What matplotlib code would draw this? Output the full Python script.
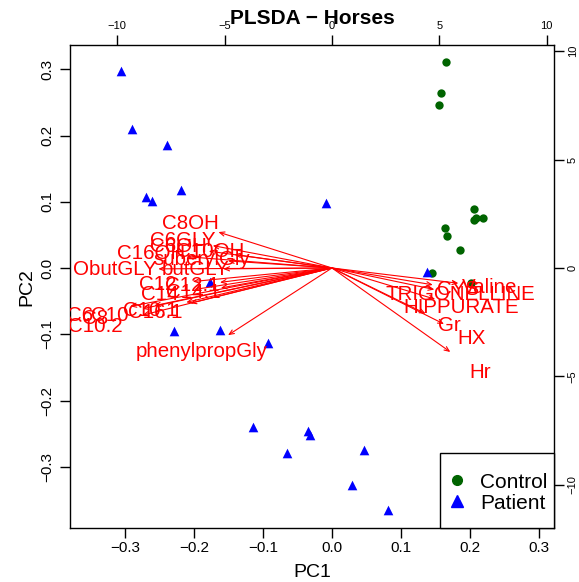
import matplotlib
matplotlib.use("Agg")
import matplotlib.pyplot as plt
from matplotlib.lines import Line2D
from matplotlib.patches import Rectangle
from matplotlib.ticker import MultipleLocator

plt.rcParams['font.family'] = ['Liberation Sans', 'DejaVu Sans']

# scores (PC1, PC2)
control_pc1 = [0.166, 0.158, 0.156, 0.206, 0.209, 0.206, 0.220, 0.164, 0.167, 0.186, 0.146, 0.202]
control_pc2 = [0.311, 0.264, 0.247, 0.090, 0.075, 0.072, 0.075, 0.060, 0.048, 0.028, -0.008, -0.022]

patient_pc1 = [-0.306, -0.291, -0.239, -0.220, -0.270, -0.262, -0.009, -0.177, -0.229, -0.162,
               -0.093, 0.138, -0.115, -0.065, -0.035, -0.032, 0.029, 0.047, 0.081]
patient_pc2 = [0.297, 0.210, 0.186, 0.118, 0.108, 0.101, 0.098, -0.021, -0.095, -0.094,
               -0.113, -0.006, -0.240, -0.280, -0.246, -0.252, -0.328, -0.275, -0.366]

# loadings (secondary axes units)
var_names = ["C8OH", "C6GLY", "C6OH", "C10OH", "C16OH", "suberylGly", "ObutGLY", "butGLY",
             "C12", "C12.1", "C14", "C14.1", "C10.1", "C16.1", "C6", "C8", "C10", "C10.2",
             "phenylpropGly", "TRIGONELLINE", "CYS", "Valine", "HIPPURATE", "Gr", "HX", "Hr"]
load_x = [-6.61, -6.94, -7.17, -5.68, -8.43, -6.05, -10.11, -6.33,
          -8.10, -6.52, -8.01, -6.47, -8.48, -8.24, -11.74, -11.04, -10.34, -11.04,
          -6.05, 5.96, 5.87, 7.36, 6.01, 5.45, 6.52, 6.89]
load_y = [2.07, 1.29, 0.97, 0.78, 0.65, 0.41, -0.05, -0.05,
          -0.78, -0.83, -1.24, -1.15, -1.98, -2.03, -2.21, -2.35, -2.17, -2.72,
          -3.87, -1.24, -0.97, -0.88, -1.80, -2.63, -3.23, -4.84]

W, H = 579, 582
fig = plt.figure(figsize=(W / 100, H / 100), dpi=100)
rect = [70 / W, 1 - 528.3 / H, (554 - 70) / W, (528.3 - 45) / H]

ax = fig.add_axes(rect)
ax.scatter(control_pc1, control_pc2, marker='o', s=36, color='#006400', zorder=3, linewidths=0)
ax.scatter(patient_pc1, patient_pc2, marker='^', s=48, color='#0000FF', zorder=3, linewidths=0)
ax.set_xlim(-0.3805, 0.3225)
ax.set_ylim(-0.393, 0.337)
ax.xaxis.set_major_locator(MultipleLocator(0.1))
ax.yaxis.set_major_locator(MultipleLocator(0.1))
ax.xaxis.set_major_formatter(lambda v, p: f"{v:.1f}".replace("-", "\u2212"))
ax.yaxis.set_major_formatter(lambda v, p: f"{v:.1f}".replace("-", "\u2212"))
ax.tick_params(axis='both', direction='out', length=7, width=1, labelsize=11)
ax.tick_params(axis='x', pad=2.5)
ax.tick_params(axis='y', pad=4)
for lab in ax.get_yticklabels():
    lab.set_rotation(90)
    lab.set_va('center')
ax.set_xlabel("PC1", fontsize=14, labelpad=6)
ax.set_ylabel("PC2", fontsize=14, labelpad=4)
for sp in ax.spines.values():
    sp.set_linewidth(1)

# secondary axes for loadings
ax2 = fig.add_axes(rect, frameon=False)
ax2.set_xlim(-12.20, 10.34)
ax2.set_ylim(-12.0, 10.28)
ax2.xaxis.tick_top()
ax2.yaxis.tick_right()
ax2.xaxis.set_major_locator(MultipleLocator(5))
ax2.yaxis.set_major_locator(MultipleLocator(5))
ax2.xaxis.set_major_formatter(lambda v, p: f"{v:.0f}".replace("-", "\u2212"))
ax2.yaxis.set_major_formatter(lambda v, p: f"{v:.0f}".replace("-", "\u2212"))
ax2.tick_params(axis='both', direction='out', length=7, width=1, labelsize=8, pad=3)
for lab in ax2.get_yticklabels():
    lab.set_rotation(90)
    lab.set_va('center')

for name, lx, ly in zip(var_names, load_x, load_y):
    ax2.annotate("", xy=(lx * 0.8, ly * 0.8), xytext=(0, 0),
                 arrowprops=dict(arrowstyle='->,head_length=0.35,head_width=0.15',
                                 color='red', lw=0.8, shrinkA=0, shrinkB=0),
                 annotation_clip=False)
    ax2.text(lx, ly, name, color='red', fontsize=14.8, ha='center', va='center', clip_on=True)

# legend box (bottom right, like R's legend)
box_x0 = (440 - 70) / 484
box_h = (528.3 - 453) / 483.3
ax2.add_patch(Rectangle((box_x0, 0), 1 - box_x0, box_h, transform=ax2.transAxes,
                        facecolor='white', edgecolor='black', linewidth=1, zorder=5, clip_on=False))
handles = [
    Line2D([0], [0], marker='o', linestyle='None', color='#006400', markersize=7, label='Control'),
    Line2D([0], [0], marker='^', linestyle='None', color='#0000FF', markersize=8.5, label='Patient'),
]
leg = ax2.legend(handles=handles, loc='center', bbox_to_anchor=(box_x0 + (1 - box_x0) / 2, box_h / 2 - 0.004),
                 fontsize=15, frameon=False, handlelength=1.0, handletextpad=0.6, borderpad=0.2,
                 labelspacing=0.1)
leg.set_zorder(6)

fig.text(312 / W, 1 - 19 / H, "PLSDA \u2212 Horses", ha='center', va='center',
         fontsize=15, fontweight='bold')

fig.savefig("out.png", dpi=100)
